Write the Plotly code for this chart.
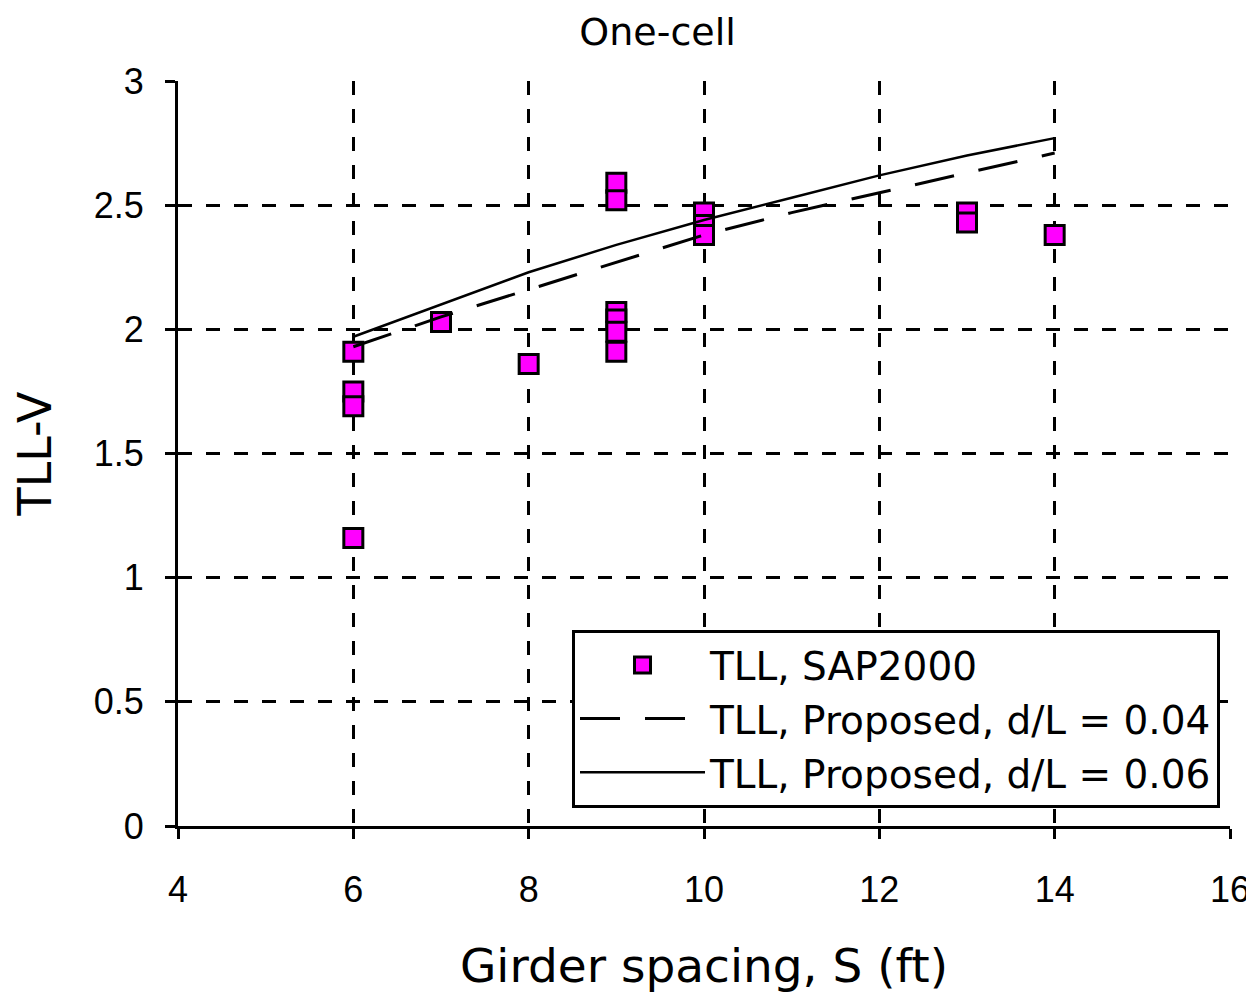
import plotly.graph_objects as go

# SAP2000 results
sap_x = [6, 6, 6, 6, 7, 8, 9, 9, 9, 9, 9, 9, 10, 10, 10, 13, 13, 14]
sap_y = [1.91, 1.75, 1.69, 1.16, 2.03, 1.86, 2.59, 2.52, 2.07, 2.04, 1.99, 1.91, 2.47, 2.42, 2.38, 2.47, 2.43, 2.38]

# Proposed equations
prop_x = [6, 7, 8, 9, 10, 11, 12, 13, 14]
prop_004 = [1.93, 2.05, 2.16, 2.27, 2.38, 2.47, 2.55, 2.63, 2.71]
prop_006 = [1.97, 2.10, 2.23, 2.34, 2.44, 2.53, 2.62, 2.70, 2.77]

x_ticks = [4, 6, 8, 10, 12, 14, 16]
y_ticks = [0, 0.5, 1, 1.5, 2, 2.5, 3]

FONT = "Liberation Sans"
WFONT = "DejaVu Sans"

fig = go.Figure()
fig.add_trace(go.Scatter(
    x=sap_x, y=sap_y, mode="markers", name="TLL, SAP2000",
    marker=dict(symbol="square", size=19, color="#ff00ff",
                line=dict(color="black", width=3)),
))
fig.add_trace(go.Scatter(
    x=prop_x, y=prop_004, mode="lines", name="TLL, Proposed, d/L = 0.04",
    line=dict(color="black", width=3, dash="40px,25px"),
))
fig.add_trace(go.Scatter(
    x=prop_x, y=prop_006, mode="lines", name="TLL, Proposed, d/L = 0.06",
    line=dict(color="black", width=2.5),
))

axis_common = dict(
    showline=True, linecolor="black", linewidth=3,
    ticks="outside", ticklen=10, tickwidth=3, tickcolor="black",
    showgrid=True, gridcolor="black", gridwidth=2.5, griddash="14px,14px",
    zeroline=False,
    tickfont=dict(family=FONT, size=36, color="black"),
)

fig.update_xaxes(
    range=[4, 16], tickvals=x_ticks, ticktext=[str(v) for v in x_ticks],
    ticklabelstandoff=20,
    title=dict(text="Girder spacing, S (ft)", font=dict(family=WFONT, size=47, color="black"), standoff=40),
    **axis_common,
)
fig.update_yaxes(
    range=[0, 3], tickvals=y_ticks, ticktext=[f"{v:g}" for v in y_ticks],
    ticklabelstandoff=14,
    title=dict(text="TLL-V", font=dict(family=WFONT, size=46, color="black"), standoff=28),
    **axis_common,
)

fig.update_layout(
    width=1254, height=995,
    margin=dict(l=170, r=30, t=73, b=177),
    paper_bgcolor="white", plot_bgcolor="white",
    title=dict(text="One-cell", x=0.518, xanchor="center", y=0.99, yanchor="top",
               font=dict(family=WFONT, size=38, color="black")),
    showlegend=True,
    legend=dict(
        x=0.9905, xanchor="right", y=0.263, yanchor="top",
        bgcolor="white", bordercolor="black", borderwidth=3,
        font=dict(family=WFONT, size=39, color="black"),
        itemwidth=125, tracegroupgap=0,
    ),
)

fig.write_html("out.html")
